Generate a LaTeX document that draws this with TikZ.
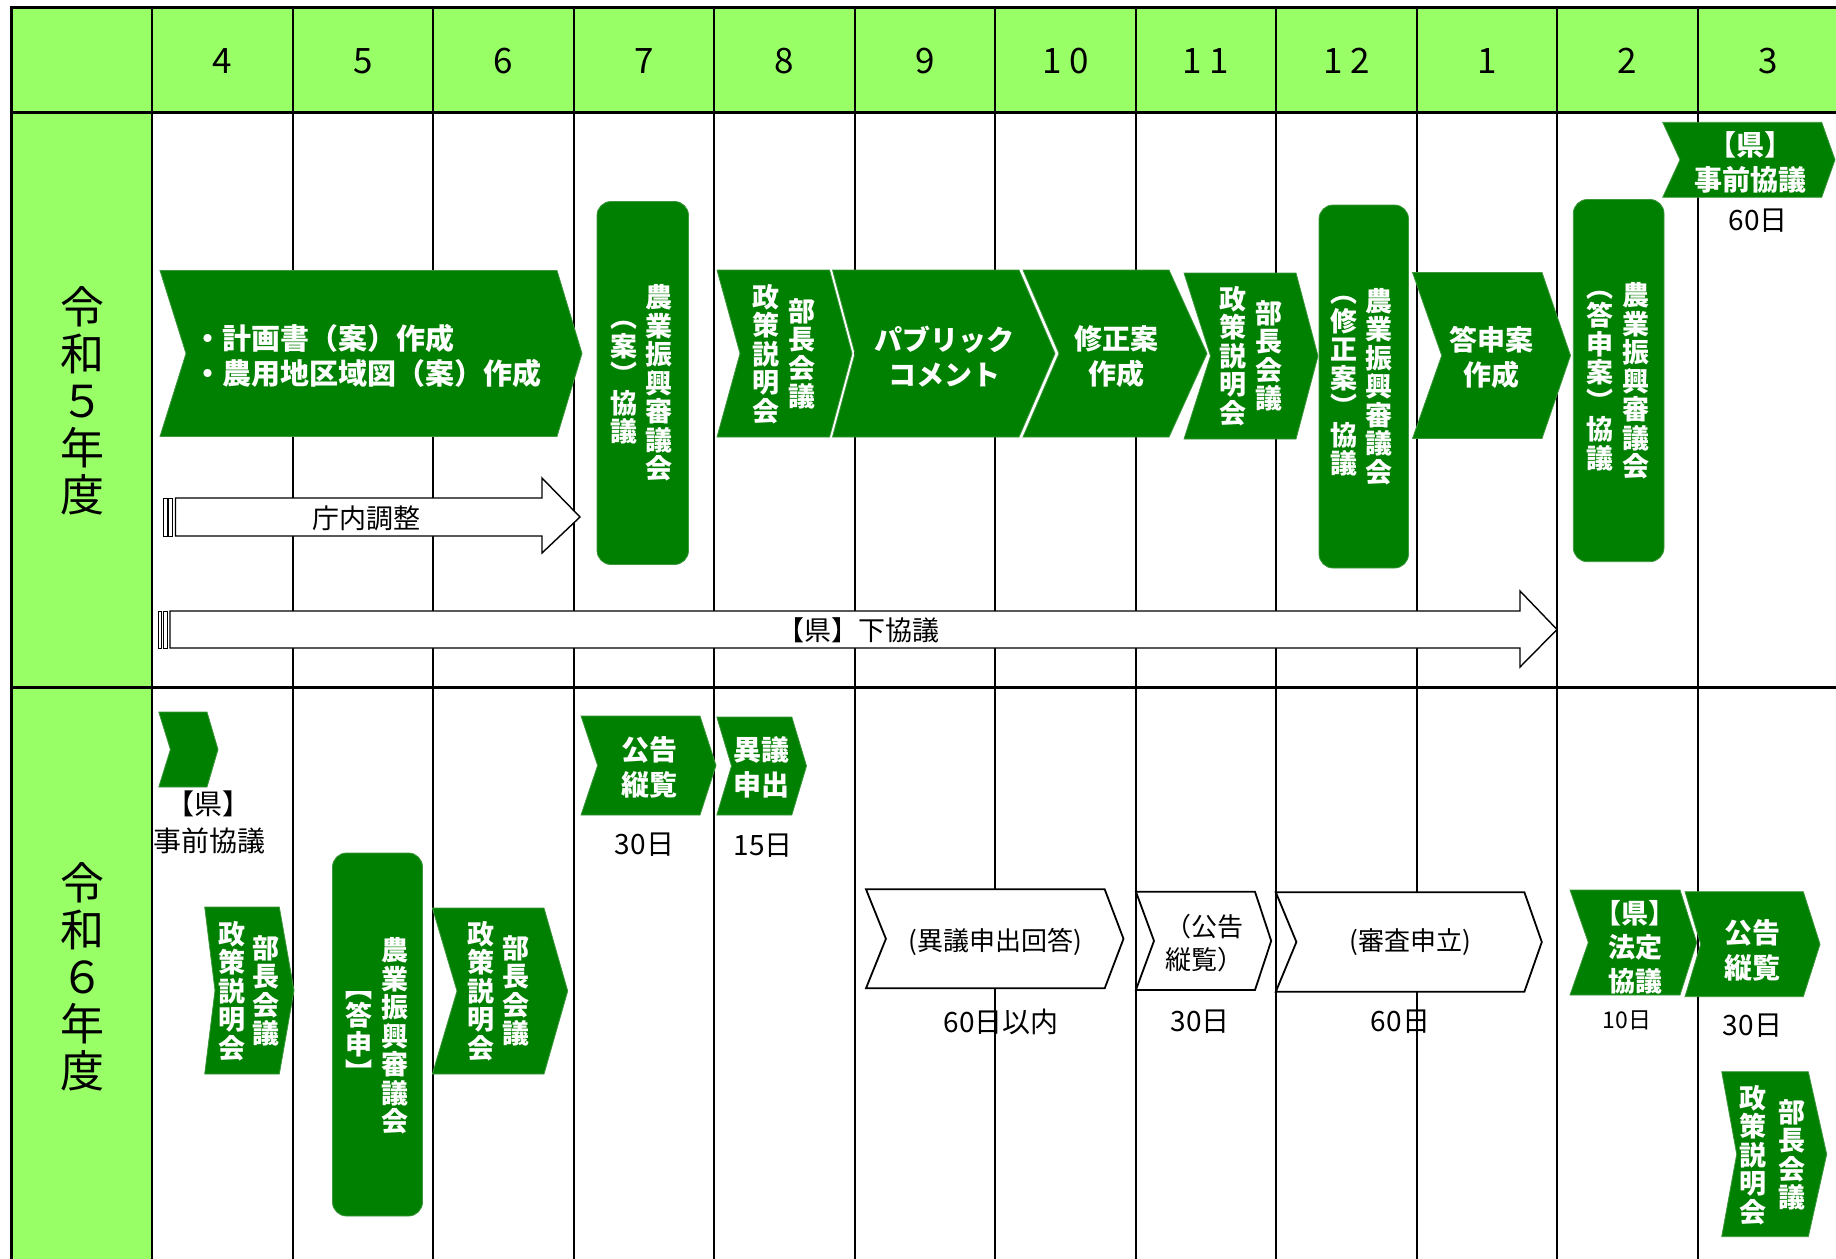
\documentclass[tikz,border=0pt]{standalone}
\usepackage{fontspec}
\setmainfont{Noto Sans CJK JP}
\definecolor{hdrgreen}{RGB}{153,255,102}
\definecolor{darkgrn}{RGB}{0,128,0}
\definecolor{edgegrn}{RGB}{60,150,60}
\tikzset{
  grn/.style={fill=darkgrn,draw=edgegrn,line width=0.8pt},
  wht/.style={fill=white,draw=black,line width=1.8pt},
  boxarrow/.style={fill=white,draw=black,line width=1.4pt},
  barstyle/.style={fill=white,draw=black,line width=0.9pt},
  rbox/.style={fill=darkgrn,draw=edgegrn,line width=0.8pt,rounded corners=14pt},
  gridline/.style={draw=black,line width=2pt},
  hline/.style={draw=black,line width=3pt},
  hnum/.style={font=\fontsize{35}{35}\selectfont,inner sep=0pt},
  yearlbl/.style={font=\fontsize{44}{47}\selectfont,align=center,inner sep=0pt},
  wtxt/.style={text=white,font=\bfseries\fontsize{28}{35}\selectfont,align=center,inner sep=0pt},
  vtxt/.style={text=white,font=\bfseries\fontsize{27}{28.5}\selectfont,align=center,inner sep=0pt},
  otxt/.style={text=black,font=\fontsize{26}{33}\selectfont,align=center,inner sep=0pt},
  dtxt/.style={text=black,font=\fontsize{28}{36}\selectfont,align=center,inner sep=0pt},
}
% chevron: [style] xl, xnotch, xtopright, xtip, ytop, ybottom
\newcommand{\chevshape}[7][grn]{\path[#1] (#2,#6) -- (#4,#6) -- (#5,{(#6+#7)/2}) -- (#4,#7) -- (#2,#7) -- (#3,{(#6+#7)/2}) -- cycle;}
% block arrow: xl, xheadbase, xtip, ybodytop, ybodybottom, yheadtop, yheadbottom
\newcommand{\blkarrow}[7]{%
  \path[barstyle] (#1,#4) rectangle ({#1+3.5},#5);
  \path[barstyle] ({#1+5},#4) rectangle ({#1+9},#5);
  \path[boxarrow] ({#1+12},#4) -- (#2,#4) -- (#2,#6) -- (#3,{(#4+#5)/2}) -- (#2,#7) -- (#2,#5) -- ({#1+12},#5) -- cycle;}
\newcommand{\twodig}[2]{#1\kern8pt#2}
\begin{document}
\begin{tikzpicture}[x=1pt,y=-1pt]
\useasboundingbox (0,0) rectangle (1836,1258);
\clip (0,0) rectangle (1836,1258);
% ---------- grid ----------
\fill[hdrgreen] (11.7,7) rectangle (1840,112.4);
\fill[hdrgreen] (11.7,112.4) rectangle (152.2,1262);
\foreach \x in {152.2,292.7,433.3,573.8,714.3,854.8,995.3,1135.8,1276.3,1416.8,1557.3,1697.8}{\draw[gridline] (\x,7) -- (\x,1262);}
\draw[hline] (11.7,112.4) -- (1840,112.4);
\draw[hline] (11.7,687) -- (1840,687);
\draw[hline] (11.7,1262) -- (11.7,7) -- (1840,7);
% ---------- header ----------
\node[hnum] (m4) at (222.45,61) {4};
\node[hnum] (m5) at (362.95,61) {5};
\node[hnum] (m6) at (503.45,61) {6};
\node[hnum] (m7) at (643.95,61) {7};
\node[hnum] (m8) at (784.45,61) {8};
\node[hnum] (m9) at (924.95,61) {9};
\node[hnum] (m10) at (1065.45,61) {\twodig{1}{0}};
\node[hnum] (m11) at (1205.95,61) {\twodig{1}{1}};
\node[hnum] (m12) at (1346.45,61) {\twodig{1}{2}};
\node[hnum] (m1) at (1486.95,61) {1};
\node[hnum] (m2) at (1627.45,61) {2};
\node[hnum] (m3) at (1767.95,61) {3};
\node[yearlbl] (y5) at (82,401) {令\\和\\５\\年\\度};
\node[yearlbl] (y6) at (82,977) {令\\和\\６\\年\\度};
% ---------- row 1 shapes ----------
\chevshape{160}{186}{557}{582}{270.5}{436.5}
\blkarrow{163.5}{542}{580}{498}{536}{478}{553}
\path[rbox] (597,201.5) rectangle (688.5,564.5);
\chevshape{717}{740}{829.5}{852}{270}{437}
\chevshape{832.5}{855}{1019}{1055}{270}{437}
\chevshape{1023}{1059}{1169}{1207}{270}{437}
\chevshape{1184}{1210.5}{1296}{1318}{273}{439}
\path[rbox] (1319,205) rectangle (1408.5,568);
\chevshape{1412.5}{1441.7}{1542}{1570.5}{272.5}{438.5}
\path[rbox] (1573.3,199.5) rectangle (1664,561.7);
\chevshape{1662.7}{1680}{1821.7}{1835}{122.3}{197.3}
\blkarrow{158}{1520}{1557}{611}{648}{591}{667}
% ---------- row 2 shapes ----------
\chevshape{158.8}{170.4}{207}{218}{712}{787}
\chevshape{204.7}{215}{279.3}{294}{907}{1074}
\path[rbox] (332.5,853) rectangle (422.5,1216);
\chevshape{432.4}{457}{544}{567.7}{908}{1074}
\chevshape{581}{597.6}{700}{716}{716}{815}
\chevshape{716.8}{731.5}{791.8}{806.5}{717}{815}
\chevshape[wht]{866}{885.9}{1104.7}{1123.5}{889.3}{988.3}
\chevshape[wht]{1135.9}{1154}{1255}{1271.2}{891.7}{990}
\chevshape[wht]{1275.8}{1296.4}{1524.4}{1541.8}{892.3}{991.7}
\chevshape{1570}{1588.3}{1680}{1696.7}{890}{995}
\chevshape{1685}{1700.7}{1803.3}{1820}{891.7}{996.7}
\chevshape{1721.7}{1736.7}{1808.3}{1826.7}{1071.7}{1236.7}
% ---------- row 1 texts ----------
\node[wtxt,anchor=west,align=left,font=\bfseries\fontsize{29}{35}\selectfont] (tA) at (193,356) {・計画書（案）作成\\・農用地区域図（案）作成};
\node[dtxt,font=\fontsize{27}{27}\selectfont] (tB) at (366.5,518) {庁内調整};
\node[vtxt] (cR) at (659,383) {農\\業\\振\\興\\審\\議\\会};
\node[vtxt] (cL) at (624,383) {︵\\案\\︶\\協\\議};
\node[vtxt] (dR) at (802,354) {部\\長\\会\\議};
\node[vtxt] (dL) at (765.5,354) {政\\策\\説\\明\\会};
\node[wtxt] (tE) at (944,357) {パブリック\\コメント};
\node[wtxt] (tF) at (1116,357) {修正案\\作成};
\node[vtxt] (gR) at (1269,356) {部\\長\\会\\議};
\node[vtxt] (gL) at (1233,356) {政\\策\\説\\明\\会};
\node[vtxt] (hR) at (1379,386.5) {農\\業\\振\\興\\審\\議\\会};
\node[vtxt] (hL) at (1344,386.5) {︵\\修\\正\\案\\︶\\協\\議};
\node[wtxt] (tI) at (1491,357.5) {答申案\\作成};
\node[vtxt] (jR) at (1636,381) {農\\業\\振\\興\\審\\議\\会};
\node[vtxt] (jL) at (1600,381) {︵\\答\\申\\案\\︶\\協\\議};
\node[wtxt] (tK) at (1750.5,162.5) {【県】\\事前協議};
\node[dtxt] (d60a) at (1758.3,220.7) {60日};
\node[dtxt,font=\fontsize{27}{27}\selectfont] (tX) at (858,630) {【県】下協議};
% ---------- row 2 texts ----------
\node[dtxt] (lk1) at (208,804) {【県】};
\node[dtxt] (lk2) at (209,841) {事前協議};
\node[vtxt] (mR) at (266,991) {部\\長\\会\\議};
\node[vtxt] (mL) at (231.5,991) {政\\策\\説\\明\\会};
\node[vtxt] (nR) at (394.5,1036) {農\\業\\振\\興\\審\\議\\会};
\node[vtxt] (nL) at (358.8,1037) {︻\\答\\申\\︼};
\node[vtxt] (oR) at (516,991) {部\\長\\会\\議};
\node[vtxt] (oL) at (480.6,991) {政\\策\\説\\明\\会};
\node[wtxt] (tP) at (649,767.5) {公告\\縦覧};
\node[wtxt] (tQ) at (761,767.5) {異議\\申出};
\node[dtxt] (d30a) at (644.5,845) {30日};
\node[dtxt] (d15) at (763.4,845.4) {15日};
\node[otxt] (tR) at (995,941.7) {(異議申出回答)};
\node[otxt] (tS) at (1204,943) {（公告\\縦覧）};
\node[otxt] (tT) at (1410,941.7) {(審査申立)};
\node[dtxt] (d60b) at (1001,1021.5) {60日以内};
\node[dtxt] (d30b) at (1200,1021.5) {30日};
\node[dtxt] (d60c) at (1400.5,1021.5) {60日};
\node[wtxt,font=\bfseries\fontsize{27}{34}\selectfont] (tU) at (1635,947.5) {【県】\\法定\\協議};
\node[wtxt] (tV) at (1752,950) {公告\\縦覧};
\node[dtxt,font=\fontsize{23}{23}\selectfont] (d10) at (1627,1020) {10日};
\node[dtxt] (d30c) at (1752.5,1026) {30日};
\node[vtxt] (wR) at (1791.7,1155) {部\\長\\会\\議};
\node[vtxt] (wL) at (1753.3,1155) {政\\策\\説\\明\\会};
\end{tikzpicture}
\end{document}
